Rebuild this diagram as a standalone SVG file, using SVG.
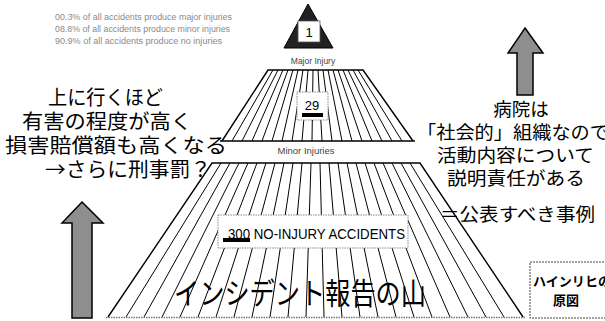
<svg xmlns="http://www.w3.org/2000/svg" width="605" height="321" viewBox="0 0 605 321">
<style>
.hatch{stroke:#000;stroke-width:1;fill:none}
.edge{stroke:#000;stroke-width:1.4;fill:none}
.jp{font-family:"Noto Sans CJK JP","Liberation Sans",sans-serif;fill:#000}
.en{font-family:"Liberation Sans",Arial,sans-serif}
.arrow{fill:#8e8e8e;stroke:#000;stroke-width:1.5}
.dot{fill:#fff;stroke:#888;stroke-width:1;stroke-dasharray:1.5 1}
</style>
<rect width="605" height="321" fill="#fff"/>
<g id="stats" class="en" fill="#8a8a8a" font-size="8.5">
<text x="55" y="20" textLength="177" lengthAdjust="spacingAndGlyphs">00.3% of all accidents produce major injuries</text>
<text x="55" y="32" textLength="175" lengthAdjust="spacingAndGlyphs">08.8% of all accidents produce minor injuries</text>
<text x="55" y="44" textLength="167" lengthAdjust="spacingAndGlyphs">90.9% of all accidents produce no injuries</text>
</g>
<g id="tier-major">
<polygon points="308,4 333,48 284,48" fill="#222" stroke="#000"/>
<rect x="298" y="21" width="22" height="21" fill="#fff" stroke="#555" stroke-width="0.8"/>
<text x="309" y="37" class="en" font-size="13" text-anchor="middle" fill="#000">1</text>
<text x="313" y="64" class="en" font-size="8.5" text-anchor="middle" fill="#444">Major Injury</text>
</g>
<g id="tier-minor">
<g class="hatch">
<line x1="273" y1="70" x2="232" y2="141"/><line x1="278" y1="70" x2="242" y2="141"/><line x1="283" y1="70" x2="252" y2="141"/><line x1="288" y1="70" x2="262" y2="141"/><line x1="293" y1="70" x2="272" y2="141"/><line x1="298" y1="70" x2="282" y2="141"/><line x1="303" y1="70" x2="292" y2="141"/><line x1="308" y1="70" x2="302" y2="141"/><line x1="313" y1="70" x2="312" y2="141"/><line x1="318" y1="70" x2="322" y2="141"/><line x1="323" y1="70" x2="332" y2="141"/><line x1="328" y1="70" x2="342" y2="141"/><line x1="333" y1="70" x2="352" y2="141"/><line x1="338" y1="70" x2="362" y2="141"/><line x1="343" y1="70" x2="372" y2="141"/><line x1="348" y1="70" x2="382" y2="141"/><line x1="353" y1="70" x2="392" y2="141"/><line x1="358" y1="70" x2="402" y2="141"/>
</g>
<polyline class="edge" points="222,141 268,70 363,70 413,141"/>
<line class="edge" x1="220" y1="141" x2="415" y2="141"/>
<rect x="297" y="92" width="31" height="28" class="dot"/>
<text x="312" y="110" class="en" font-size="13" text-anchor="middle" fill="#000">29</text>
<rect x="302" y="113" width="21" height="4" fill="#000"/>
<text x="306" y="154" class="en" font-size="9.5" text-anchor="middle" fill="#444">Minor Injuries</text>
</g>
<g id="tier-noinjury">
<g class="hatch">
<line x1="221" y1="163" x2="126" y2="317"/><line x1="230" y1="163" x2="144" y2="317"/><line x1="239" y1="163" x2="162" y2="317"/><line x1="248" y1="163" x2="180" y2="317"/><line x1="257" y1="163" x2="198" y2="317"/><line x1="266" y1="163" x2="216" y2="317"/><line x1="275" y1="163" x2="234" y2="317"/><line x1="284" y1="163" x2="252" y2="317"/><line x1="293" y1="163" x2="270" y2="317"/><line x1="302" y1="163" x2="288" y2="317"/><line x1="311" y1="163" x2="306" y2="317"/><line x1="320" y1="163" x2="324" y2="317"/><line x1="329" y1="163" x2="342" y2="317"/><line x1="338" y1="163" x2="360" y2="317"/><line x1="347" y1="163" x2="378" y2="317"/><line x1="356" y1="163" x2="396" y2="317"/><line x1="365" y1="163" x2="414" y2="317"/><line x1="374" y1="163" x2="432" y2="317"/><line x1="383" y1="163" x2="450" y2="317"/><line x1="392" y1="163" x2="468" y2="317"/><line x1="401" y1="163" x2="486" y2="317"/><line x1="410" y1="163" x2="504" y2="317"/>
</g>
<polyline class="edge" points="108,317 212,163 420,163 523,317"/>
<line x1="106" y1="317.5" x2="525" y2="317.5" stroke="#777" stroke-width="1.5" stroke-dasharray="1.5 1"/>
<rect x="218" y="215" width="190" height="33" class="dot"/>
<text x="228" y="239" class="en" font-size="15" fill="#000" textLength="177" lengthAdjust="spacingAndGlyphs">300 NO-INJURY ACCIDENTS</text>
<rect x="223" y="238" width="27" height="4" fill="#000"/>
<text x="174" y="304" class="jp" font-size="30" textLength="252" lengthAdjust="spacingAndGlyphs">インシデント報告の山</text>
</g>
<g id="left-note" class="jp" font-size="20">
<text x="48" y="105" textLength="115" lengthAdjust="spacingAndGlyphs">上に行くほど</text>
<text x="22" y="129" textLength="170" lengthAdjust="spacingAndGlyphs">有害の程度が高く</text>
<text x="5" y="153" textLength="222" lengthAdjust="spacingAndGlyphs">損害賠償額も高くなる</text>
<text x="45" y="177" textLength="166" lengthAdjust="spacingAndGlyphs">→さらに刑事罰？</text>
</g>
<g id="left-arrow">
<polygon class="arrow" points="82,202 103,223 92,223 92,318 72,318 72,223 62,223"/>
</g>
<g id="right-arrow">
<polygon class="arrow" points="525,28 543,53 533,53 533,95 517,95 517,53 508,53"/>
</g>
<g id="right-note" class="jp" font-size="18.5">
<text x="521" y="116" text-anchor="middle">病院は</text>
<text x="417" y="139" textLength="192" lengthAdjust="spacingAndGlyphs">「社会的」組織なので</text>
<text x="437" y="162" textLength="157" lengthAdjust="spacingAndGlyphs">活動内容について</text>
<text x="447" y="185" textLength="138" lengthAdjust="spacingAndGlyphs">説明責任がある</text>
<text x="440" y="221" textLength="155" lengthAdjust="spacingAndGlyphs">＝公表すべき事例</text>
</g>
<g id="source-box">
<rect x="530" y="262" width="85" height="56" fill="#fff" stroke="#444" stroke-width="1" stroke-dasharray="2 1"/>
<text x="533" y="286" class="jp" font-size="13" font-weight="bold" textLength="78" lengthAdjust="spacingAndGlyphs">ハインリヒの</text>
<text x="566" y="305" class="jp" font-size="13" font-weight="bold" text-anchor="middle">原図</text>
</g>
</svg>
